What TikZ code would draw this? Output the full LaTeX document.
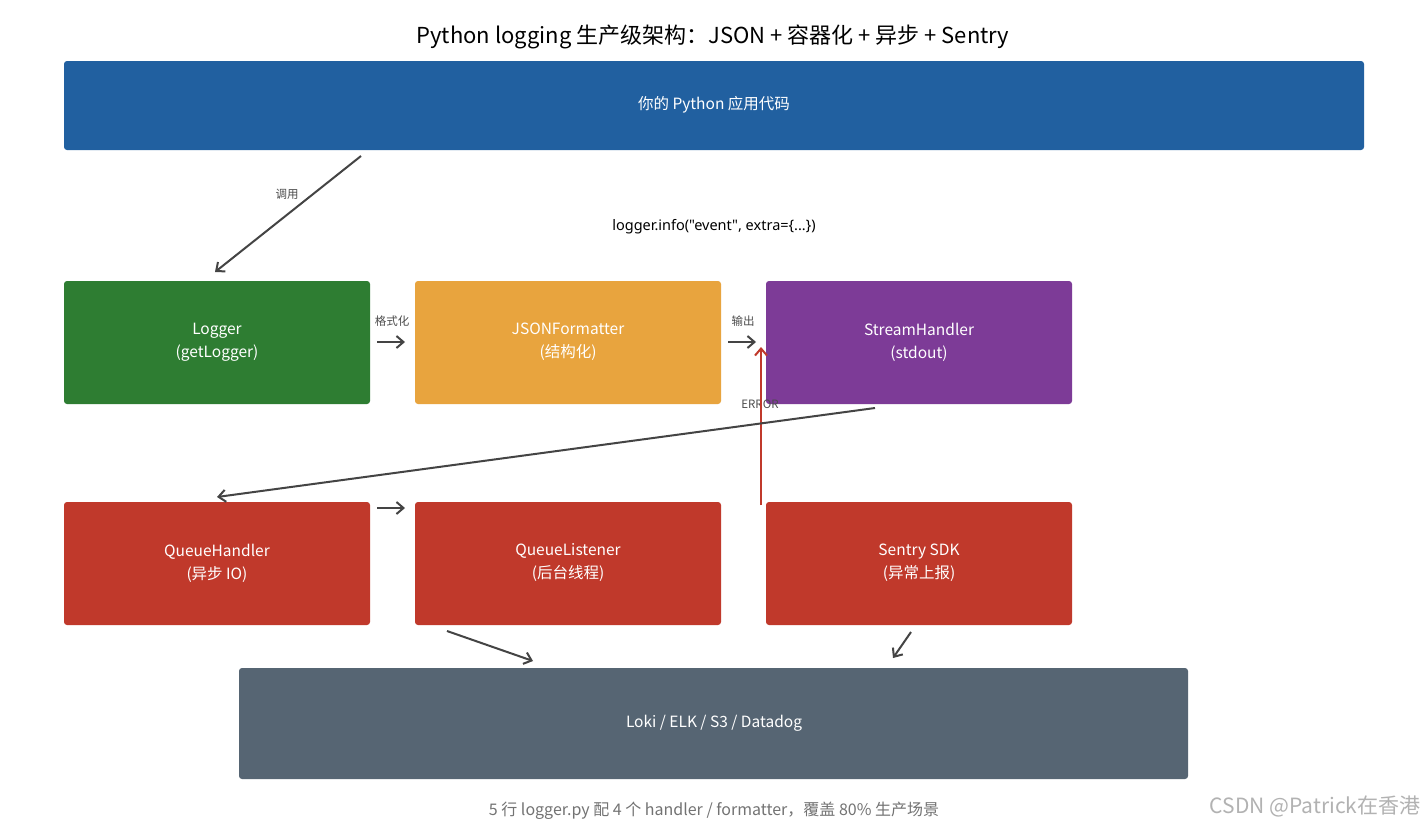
\documentclass[tikz,border=0pt]{standalone}
\usepackage{fontspec}
\setmainfont{Noto Sans CJK SC}
\newfontfamily\latinfont{Noto Sans}
\usetikzlibrary{arrows.meta}
\definecolor{cblue}{HTML}{2160A0}
\definecolor{cgreen}{HTML}{2E7D32}
\definecolor{corange}{HTML}{E8A43E}
\definecolor{cpurple}{HTML}{7D3B97}
\definecolor{cred}{HTML}{C0392B}
\definecolor{cgray}{HTML}{566573}
\definecolor{carrow}{HTML}{444444}
\begin{document}
\begin{tikzpicture}[x=1pt,y=-1pt,
 box/.style={rounded corners=3pt,text=white,font=\fontsize{15.5}{23}\selectfont,align=center,inner sep=0pt},
 arr/.style={draw=carrow,line width=2pt,-{Straight Barb[length=7pt,width=12pt]}},
 lbl/.style={font=\fontsize{11.5}{13}\selectfont,text=black!70}]
\useasboundingbox[fill=white] (0,0) rectangle (1427,833);
\node[font=\fontsize{22}{26}\selectfont] (title) at (713,37) {Python logging 生产级架构：JSON + 容器化 + 异步 + Sentry};
\fill[cblue,rounded corners=3pt] (64,61) rectangle (1364,150);
\node[box] (app) at (714,105) {你的 Python 应用代码};
\fill[cgreen,rounded corners=3pt] (64,281) rectangle (370,404);
\node[box] (logger) at (217,342) {Logger\\(getLogger)};
\fill[corange,rounded corners=3pt] (415,281) rectangle (721,404);
\node[box] (fmt) at (568,342) {JSONFormatter\\(结构化)};
\fill[cpurple,rounded corners=3pt] (766,281) rectangle (1072,404);
\node[box] (sh) at (919,342) {StreamHandler\\(stdout)};
\fill[cred,rounded corners=3pt] (64,502) rectangle (370,625);
\node[box] (qh) at (217,563) {QueueHandler\\(异步 IO)};
\fill[cred,rounded corners=3pt] (415,502) rectangle (721,625);
\node[box] (ql) at (568,563) {QueueListener\\(后台线程)};
\fill[cred,rounded corners=3pt] (766,502) rectangle (1072,625);
\node[box] (sentry) at (919,563) {Sentry SDK\\(异常上报)};
\fill[cgray,rounded corners=3pt] (239,668) rectangle (1188,779);
\node[box] (sink) at (714,723) {Loki / ELK / S3 / Datadog};
\coordinate (a1) at (361,156); \coordinate (a2) at (215,272);
\draw[arr] (a1) -- (a2);
\node[lbl] (l1) at (287,194) {调用};
\node[font=\latinfont\fontsize{14.5}{17}\selectfont] (info) at (714,227) {logger.info(\symbol{34}event\symbol{34}, extra=\{...\})};
\coordinate (b1) at (377,342); \coordinate (b2) at (405,342);
\draw[arr] (b1) -- (b2);
\node[lbl] (l2) at (392,321) {格式化};
\coordinate (c1) at (728,342); \coordinate (c2) at (756,342);
\draw[arr] (c1) -- (c2);
\node[lbl] (l3) at (743,321) {输出};
\node[lbl] (l4) at (760,404) {ERROR};
\coordinate (e1) at (761,505); \coordinate (e2) at (761,347);
\draw[draw=cred,line width=2pt,-{Straight Barb[length=7pt,width=12pt]}] (e1) -- (e2);
\coordinate (d1) at (875,408); \coordinate (d2) at (217,497);
\draw[arr] (d1) -- (d2);
\coordinate (f1) at (377,508); \coordinate (f2) at (405,508);
\draw[arr] (f1) -- (f2);
\coordinate (g1) at (447,631); \coordinate (g2) at (533,661);
\draw[arr] (g1) -- (g2);
\coordinate (h1) at (911,632); \coordinate (h2) at (893,658);
\draw[arr] (h1) -- (h2);
\node[font=\fontsize{16}{18}\selectfont,text=black!55] (foot) at (714,811) {5 行 logger.py 配 4 个 handler / formatter，覆盖 80\% 生产场景};
\node[font=\fontsize{21}{24}\selectfont,text=black!30,anchor=east] (wm) at (1424,806) {CSDN @Patrick在香港};
\end{tikzpicture}
\end{document}
